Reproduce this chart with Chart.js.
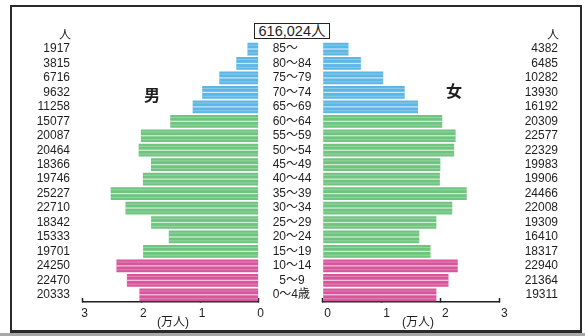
<!DOCTYPE html>
<html>
<head>
<meta charset="utf-8">
<script src="https://cdn.jsdelivr.net/npm/chart.js@4.4.1/dist/chart.umd.min.js"></script>
<style>
  html, body { margin: 0; padding: 0; background: #fff; }
  body {
    width: 585px; height: 336px; position: relative; overflow: hidden;
    font-family: 'Liberation Sans', 'Noto Sans CJK JP', sans-serif; color: #1e1e1e;
  }
  #frame {
    position: absolute; left: 10px; top: 5px; width: 572px; height: 328px;
    border: 2px solid #2a2a2a; border-bottom-width: 3px; box-sizing: border-box;
  }
  #shade { position: absolute; left: 0; top: 333px; width: 585px; height: 3px; background: #a8a8a8; }
  .wrap { position: absolute; top: 0; height: 336px; }
  #leftWrap { left: 0; width: 276px; }
  #rightWrap { left: 262px; width: 323px; }
  .txt { position: absolute; transform: translate(-50%, -50%); white-space: nowrap; line-height: 1; }
  #total {
    position: absolute; left: 254px; top: 23px; width: 76px; height: 16px;
    border: 1px solid #222; box-sizing: border-box; background: #fff;
    font-size: 14.5px; line-height: 14px; text-align: center;
  }
</style>
</head>
<body>
<div id="frame"></div>
<div id="shade"></div>
<div class="wrap" id="rightWrap"><canvas id="femaleChart" width="323" height="336"></canvas></div>
<div class="wrap" id="leftWrap"><canvas id="maleChart" width="276" height="336"></canvas></div>

<div id="total">616,024人</div>
<div class="txt" style="left:65px;top:35px;font-size:12px;">人</div>
<div class="txt" style="left:553px;top:35px;font-size:12px;">人</div>
<div class="txt" style="left:152px;top:96px;font-size:16px;font-weight:bold;">男</div>
<div class="txt" style="left:454px;top:92px;font-size:16px;font-weight:bold;">女</div>
<div class="txt" style="left:173px;top:322px;font-size:12px;">(万人)</div>
<div class="txt" style="left:418px;top:322px;font-size:12px;">(万人)</div>

<script>
// Age groups, oldest at the top
const ageGroups = ['85～', '80～84', '75～79', '70～74', '65～69', '60～64', '55～59', '50～54',
  '45～49', '40～44', '35～39', '30～34', '25～29', '20～24', '15～19', '10～14', '\u20075～9', '0～4歳'];

// Population by age group (persons)
const maleValues = [1917, 3815, 6716, 9632, 11258, 15077, 20087, 20464, 18366, 19746,
  25227, 22710, 18342, 15333, 19701, 24250, 22470, 20333];
const femaleValues = [4382, 6485, 10282, 13930, 16192, 20309, 22577, 22329, 19983, 19906,
  24466, 22008, 19309, 16410, 18317, 22940, 21364, 19311];

// Axis ticks in units of 10,000 persons
const axisTicks = [0, 1, 2, 3];
const axisUnit = 10000;

const INK = '#1e1e1e';
Chart.defaults.font.family = "'Liberation Sans', 'Noto Sans CJK JP', sans-serif";
Chart.defaults.font.size = 12;
Chart.defaults.color = INK;

// Colour by broad age band: elderly / working age / children
function bandColor(label) {
  const low = parseInt(label.replace(/\D*(\d+).*/, '$1'), 10);
  if (low >= 65) return '#5cb6e6';
  if (low >= 15) return '#6fc47f';
  return '#d8559b';
}
const barColors = ageGroups.map(bandColor);

// Light horizontal sheen lines over each bar
const barSheen = {
  id: 'barSheen',
  afterDatasetsDraw(chart) {
    const ctx = chart.ctx;
    chart.getDatasetMeta(0).data.forEach(bar => {
      const { x, y, base, height } = bar.getProps(['x', 'y', 'base', 'height'], true);
      const left = Math.min(x, base), w = Math.abs(x - base), top = y - height / 2;
      ctx.save();
      ctx.fillStyle = 'rgba(255,255,255,0.7)';
      ctx.fillRect(left, y - 0.6, w, 1.2);
      ctx.fillStyle = 'rgba(255,255,255,0.28)';
      ctx.fillRect(left, top + 2, w, 1);
      ctx.fillRect(left, top + height - 3, w, 1);
      ctx.restore();
    });
  }
};

function valueAxis(reverse, labelOffset) {
  return {
    type: 'linear', position: 'bottom', reverse,
    min: axisTicks[0] * axisUnit, max: axisTicks[axisTicks.length - 1] * axisUnit,
    afterBuildTicks: s => { s.ticks = axisTicks.map(t => ({ value: t * axisUnit })); },
    ticks: { callback: v => String(v / axisUnit), padding: 8, labelOffset, maxRotation: 0, autoSkip: false },
    grid: { drawOnChartArea: false, tickLength: -4, tickColor: INK, tickWidth: 1.5 },
    border: { display: true, color: INK, width: 1.5 },
    afterFit: s => { s.height = 34; }
  };
}

function dataset(values) {
  return {
    data: values, backgroundColor: barColors, borderWidth: 0,
    barPercentage: 0.88, categoryPercentage: 1
  };
}

const common = {
  indexAxis: 'y', responsive: false, animation: false,
  plugins: { legend: { display: false }, tooltip: { enabled: false } }
};

// Male side: bars grow leftwards from 0
new Chart(document.getElementById('maleChart'), {
  type: 'bar',
  data: { labels: ageGroups, datasets: [dataset(maleValues)] },
  options: {
    ...common,
    layout: { padding: { left: 10, right: 17.3, top: 41.8, bottom: 0 } },
    scales: {
      x: valueAxis(true, 2),
      y: {
        position: 'left', offset: true,
        grid: { display: false, drawTicks: false }, border: { display: false },
        ticks: { callback: (v, i) => String(maleValues[i]), crossAlign: 'near', padding: 12.7, autoSkip: false },
        afterFit: s => { s.width = 72.7; }
      }
    }
  },
  plugins: [barSheen]
});

// Female side: age labels on the left, counts on the right
new Chart(document.getElementById('femaleChart'), {
  type: 'bar',
  data: { labels: ageGroups, datasets: [dataset(femaleValues)] },
  options: {
    ...common,
    layout: { padding: { left: 10.7, right: 27, top: 41.8, bottom: 0 } },
    scales: {
      x: valueAxis(false, 5),
      y: {
        position: 'left', offset: true,
        grid: { display: false, drawTicks: false }, border: { display: false },
        ticks: { crossAlign: 'far', padding: 0, autoSkip: false },
        afterFit: s => { s.width = 50; }
      },
      y2: {
        type: 'category', position: 'right', offset: true,
        grid: { display: false, drawTicks: false }, border: { display: false },
        ticks: { callback: (v, i) => String(femaleValues[i]), crossAlign: 'far', padding: 0, autoSkip: false },
        afterFit: s => { s.width = 58.7; }
      }
    }
  },
  plugins: [barSheen]
});
</script>
</body>
</html>
